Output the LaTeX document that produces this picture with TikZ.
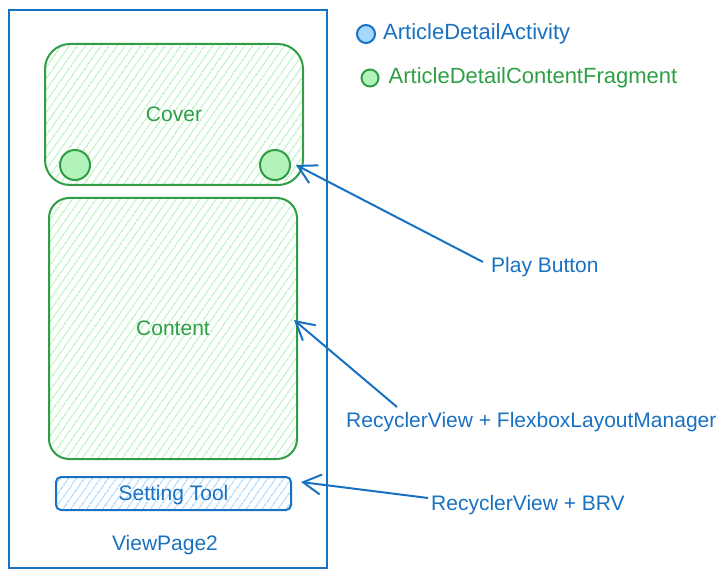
\documentclass[tikz,border=0pt]{standalone}
\usepackage{fontspec}
\setmainfont{Liberation Sans}
\usetikzlibrary{positioning,arrows.meta,patterns.meta}
\definecolor{exblue}{HTML}{1971C2}
\definecolor{exbluefill}{HTML}{A5D8FF}
\definecolor{exgreen}{HTML}{2F9E44}
\definecolor{exgreenfill}{HTML}{B2F2BB}

\begin{document}
\begin{tikzpicture}[x=1pt,y=-1pt,
  every node/.style={inner sep=0pt,align=center,font=\fontsize{21}{25}\selectfont},%
  pg/.style={draw=exblue,line width=2pt,minimum width=318pt,minimum height=558pt},%
  gh/.style={draw=exgreen,line width=2pt,text=exgreen,%
    pattern={Lines[angle=55,distance=6.5pt,line width=1.4pt]},pattern color=exgreenfill},%
  bh/.style={draw=exblue,line width=2pt,text=exblue,%
    pattern={Lines[angle=55,distance=6.5pt,line width=1.4pt]},pattern color=exbluefill},%
  gd/.style={circle,draw=exgreen,fill=exgreenfill,line width=2pt},%
  bd/.style={circle,draw=exblue,fill=exbluefill,line width=2pt},%
  bt/.style={text=exblue,anchor=west},%
  gt/.style={text=exgreen,anchor=west},%
  lg/.style={font=\fontsize{22}{26}\selectfont},%
  e/.style={-{Straight Barb[length=18pt,width=20pt]},line width=2pt,draw=exblue}%
  ]
  \useasboundingbox (0,0) rectangle (725,577);
  \node (page) [pg] at (168,289) {};
  \node (cover) [gh,rounded corners=25pt,minimum width=258pt,minimum height=141pt] at (174,114.5) {Cover};
  \node (playL) [gd,minimum size=30pt] at (75,165) {};
  \node (playR) [gd,minimum size=30pt] at (275,165) {};
  \node (content) [gh,rounded corners=20pt,minimum width=248pt,minimum height=261pt] at (173,328.5) {Content};
  \node (tool) [bh,rounded corners=5pt,minimum width=235pt,minimum height=33pt,text depth=2pt] at (173.5,493.5) {Setting Tool};
  \node (vp) [text=exblue] at (165,545) {ViewPage2};
  \node (actdot) [bd,minimum size=18pt] at (366,34) {};
  \node (act) [bt,lg,right=7pt of actdot] {ArticleDetailActivity};
  \node (fragdot) [gd,minimum size=17pt] at (370,78) {};
  \node (frag) [gt,lg,right=9pt of fragdot] {ArticleDetailContentFragment};
  \node (play) [bt] at (491,267) {Play Button};
  \node (flex) [bt] at (346,422) {RecyclerView + FlexboxLayoutManager};
  \node (brv) [bt] at (431,505) {RecyclerView + BRV};
  \draw [e] ([xshift=-8pt,yshift=5pt]play.west) -- ([xshift=5pt]playR.east);
  \draw [e] ([xshift=51pt,yshift=15pt]flex.west) -- ([xshift=-4pt,yshift=8.5pt]content.east);
  \draw [e] ([xshift=-3pt,yshift=7pt]brv.west) -- ([xshift=9pt,yshift=11.5pt]tool.east);
\end{tikzpicture}
\end{document}
